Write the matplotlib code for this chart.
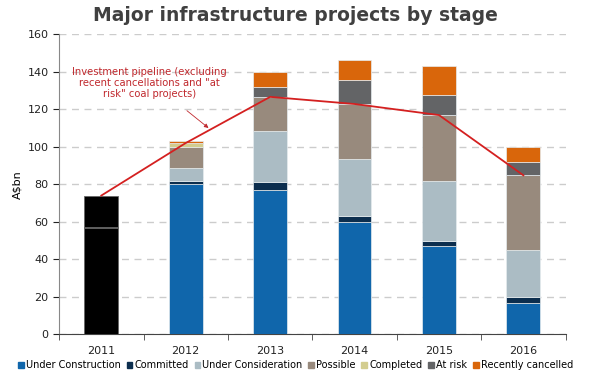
import matplotlib.pyplot as plt
import numpy as np

years = ['2011', '2012', '2013', '2014', '2015', '2016']

# 2011 is shown as a single black total (split by faint lines)
black_2011 = [56.5, 1.0, 16.5]

series_names = ['Under Construction', 'Committed', 'Under Consideration', 'Possible',
                'Completed', 'At risk', 'Recently cancelled']
series_colors = ['#1066ab', '#0c2e4e', '#abbcc4', '#988a7d', '#d3cd8f', '#636466', '#d9660b']

under_construction = [0, 80, 77, 60, 47, 17]
committed = [0, 2, 4, 3, 2.6, 3]
under_consideration = [0, 6.5, 27.4, 30.6, 32.2, 25]
possible = [0, 11.5, 18.2, 29.1, 35.1, 39.8]
completed = [0, 2.2, 0, 0, 0, 0]
at_risk = [0, 0, 5.3, 12.8, 10.9, 7.2]
recently_cancelled = [0, 0.8, 8.1, 10.5, 15.5, 7.7]

pipeline = [74, 102, 126.6, 122.8, 116.9, 84.8]

series = [under_construction, committed, under_consideration, possible,
          completed, at_risk, recently_cancelled]

fig, ax = plt.subplots(figsize=(5.91, 3.8), dpi=100)
fig.subplots_adjust(left=0.1, right=0.957, top=0.91, bottom=0.12)

x = np.arange(len(years))
width = 0.4

bottom = 0
for seg in black_2011:
    ax.bar(x[0], seg, width, bottom=bottom, color='black', edgecolor='#666666',
           linewidth=0.6, zorder=3)
    bottom += seg

bottoms = np.zeros(len(years))
for name, vals, col in zip(series_names, series, series_colors):
    vals = np.array(vals, dtype=float)
    ax.bar(x[1:], vals[1:], width, bottom=bottoms[1:], color=col,
           edgecolor='#e6ecef', linewidth=0.5, zorder=3, label=name)
    bottoms += vals

ax.plot(x, pipeline, color='#d42020', linewidth=1.3, zorder=4)

ax.annotate('Investment pipeline (excluding\nrecent cancellations and "at\nrisk" coal projects)',
            xy=(1.27, 110), xytext=(0.57, 134), ha='center', va='center',
            fontsize=7.2, color='#c0282d', linespacing=1.15,
            arrowprops=dict(arrowstyle='-|>', color='#c0282d', lw=0.6,
                            mutation_scale=6, shrinkA=10, shrinkB=0,
                            relpos=(0.65, 0)))

ax.set_ylim(0, 160)
ax.set_xlim(-0.5, len(years) - 0.5)
ax.set_yticks(range(0, 161, 20))
ax.set_xticks(x)
ax.set_xticklabels(years)
ax.set_xticks(np.arange(-0.5, len(years), 1), minor=True)
ax.tick_params(axis='x', which='major', length=0, pad=8)
ax.tick_params(axis='x', which='minor', length=4, color='#444444')
ax.tick_params(axis='y', length=4, color='#888888')
ax.tick_params(labelsize=8, colors='#222222')
ax.yaxis.grid(True, linestyle=(0, (5, 4)), color='#cccccc', linewidth=1, zorder=0)
ax.set_axisbelow(True)
for s in ['top', 'right']:
    ax.spines[s].set_visible(False)
ax.spines['left'].set_color('#888888')
ax.spines['bottom'].set_color('#444444')
ax.set_ylabel('A$bn', fontsize=8, labelpad=4)

fig.suptitle('Major infrastructure projects by stage', fontsize=13.5, fontweight='bold',
             color='#404040', x=0.5, y=0.985)

handles = [plt.Rectangle((0, 0), 1, 1, color=c) for c in series_colors]
fig.legend(handles, series_names, loc='lower center', ncol=7, frameon=False,
           fontsize=7, handlelength=0.6, handleheight=0.6, handletextpad=0.2,
           columnspacing=0.6, borderaxespad=0.2, bbox_to_anchor=(0.5, 0.01))

fig.savefig('out.png', dpi=100)
